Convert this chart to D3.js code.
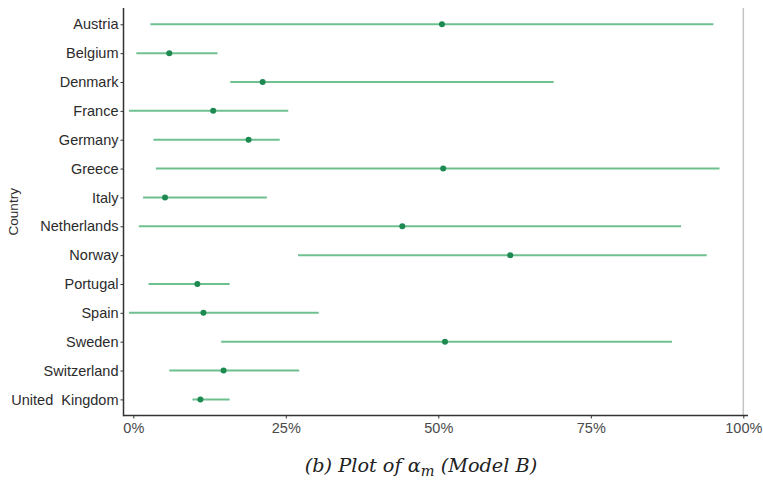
<!DOCTYPE html>
<html>
<head>
<meta charset="utf-8">
<script src="https://cdn.jsdelivr.net/npm/d3@7"></script>
<style>
  body { margin: 0; background: #fff; }
  text { font-family: "Liberation Sans", Arial, sans-serif; }
</style>
</head>
<body>
<script>
// countries, top to bottom
var countries = ["Austria", "Belgium", "Denmark", "France", "Germany", "Greece", "Italy",
  "Netherlands", "Norway", "Portugal", "Spain", "Sweden", "Switzerland", "United  Kingdom"];
// point estimates and interval bounds (share)
var estimate = [0.506, 0.059, 0.212, 0.131, 0.189, 0.508, 0.052, 0.441, 0.618, 0.105, 0.115, 0.511, 0.148, 0.110];
var lower = [0.028, 0.005, 0.159, -0.007, 0.033, 0.037, 0.016, 0.009, 0.270, 0.025, -0.007, 0.144, 0.059, 0.097];
var upper = [0.951, 0.138, 0.689, 0.254, 0.240, 0.961, 0.219, 0.898, 0.940, 0.158, 0.304, 0.883, 0.272, 0.158];
var xTicks = [0, 0.25, 0.5, 0.75, 1];

var width = 763, height = 484;
var panel = { left: 123.5, right: 748, top: 8, bottom: 415.5 };

var svg = d3.select("body").append("svg")
  .attr("width", width)
  .attr("height", height);

var x = d3.scaleLinear().domain([0, 1]).range([133.3, 743.3]);
var y = d3.scalePoint().domain(countries).range([24.3, 399.4]);

// reference line at 100%
svg.append("line")
  .attr("x1", x(1)).attr("x2", x(1))
  .attr("y1", panel.top).attr("y2", panel.bottom)
  .attr("stroke", "#c4c4c4")
  .attr("stroke-width", 1.5);

var rows = countries.map(function (c, i) {
  return { name: c, est: estimate[i], lo: lower[i], hi: upper[i] };
});

svg.selectAll(".ci")
  .data(rows).enter()
  .append("line")
  .attr("class", "ci")
  .attr("x1", function (d) { return x(d.lo); })
  .attr("x2", function (d) { return x(d.hi); })
  .attr("y1", function (d) { return y(d.name); })
  .attr("y2", function (d) { return y(d.name); })
  .attr("stroke", "#6fc08f")
  .attr("stroke-width", 2);

svg.selectAll(".pt")
  .data(rows).enter()
  .append("circle")
  .attr("class", "pt")
  .attr("cx", function (d) { return x(d.est); })
  .attr("cy", function (d) { return y(d.name); })
  .attr("r", 3)
  .attr("fill", "#1d8a52");

// y axis
var yAxis = d3.axisLeft(y).tickSize(3).tickPadding(2);
var gy = svg.append("g")
  .attr("transform", "translate(" + panel.left + ",0)")
  .call(yAxis);
gy.select(".domain").remove();
gy.append("line")
  .attr("y1", panel.top).attr("y2", panel.bottom + 0.75)
  .attr("stroke", "#333").attr("stroke-width", 1.5);
gy.selectAll(".tick line").attr("stroke", "#333");
gy.selectAll(".tick text")
  .attr("fill", "#2b2b2b")
  .style("font-size", "14.5px")
  .style("white-space", "pre");

// x axis
var xAxis = d3.axisBottom(x).tickValues(xTicks).tickFormat(d3.format(".0%")).tickSize(3).tickPadding(4);
var gx = svg.append("g")
  .attr("transform", "translate(0," + panel.bottom + ")")
  .call(xAxis);
gx.select(".domain").remove();
gx.append("line")
  .attr("x1", panel.left).attr("x2", panel.right)
  .attr("stroke", "#333").attr("stroke-width", 1.5);
gx.selectAll(".tick line").attr("stroke", "#333");
gx.selectAll(".tick text")
  .attr("fill", "#4a4a4a")
  .style("font-size", "14.5px");

// axis title
svg.append("text")
  .attr("transform", "translate(18," + ((panel.top + panel.bottom) / 2) + ") rotate(-90)")
  .attr("text-anchor", "middle")
  .attr("fill", "#2b2b2b")
  .style("font-size", "13.5px")
  .text("Country");

// caption
var cap = svg.append("text")
  .attr("x", 421)
  .attr("y", 472)
  .attr("text-anchor", "middle")
  .attr("fill", "#222")
  .style("font-family", "'DejaVu Serif', 'Liberation Serif', serif")
  .style("font-style", "italic")
  .style("font-size", "19.3px");
cap.append("tspan").text("(b) Plot of \u03B1");
cap.append("tspan").attr("dy", 4).style("font-size", "14.5px").text("m");
cap.append("tspan").attr("dy", -4).text(" (Model B)");
</script>
</body>
</html>
